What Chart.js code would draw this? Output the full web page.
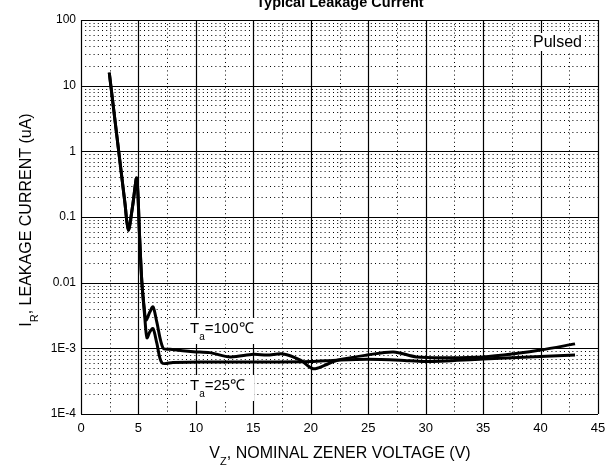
<!DOCTYPE html>
<html>
<head>
<meta charset="utf-8">
<script src="https://cdn.jsdelivr.net/npm/chart.js@4"></script>
<style>
  html, body { margin: 0; padding: 0; background: #fff; }
  #wrap { width: 613px; height: 468px; position: relative; }
</style>
</head>
<body>
<div id="wrap"><canvas id="leakage-chart" width="613" height="468"></canvas></div>
<script>
// Ta = 100C curve
const vzHot = [2.46, 3.83, 4.12, 4.5, 4.85, 5.1, 5.3, 5.5, 5.66, 6.0, 6.27, 6.6, 7.14, 7.75, 9.77, 11.2, 13, 15, 16.2, 17.6, 19.1, 20.2, 21.2, 22.3, 24.9, 27.2, 29.2, 32, 35, 38, 40, 43];
const irHot = [15.8, 0.16, 0.063, 0.15, 0.39, 0.05, 0.01, 0.0042, 0.0027, 0.0036, 0.0043, 0.0025, 0.00101, 0.00097, 0.00089, 0.00086, 0.00074, 0.00081, 0.00079, 0.00082, 0.00066, 0.00049, 0.00055, 0.00066, 0.00079, 0.00088, 0.00074, 0.00072, 0.00074, 0.00084, 0.00094, 0.00117];
// Ta = 25C curve
const vzRoom = [2.46, 3.83, 4.12, 4.5, 4.85, 5.1, 5.3, 5.55, 5.74, 6.0, 6.27, 6.6, 7.05, 8, 10.4, 13, 16, 20, 22.3, 24.9, 27.8, 30, 35, 40, 43];
const irRoom = [15.8, 0.16, 0.063, 0.15, 0.39, 0.05, 0.01, 0.003, 0.00145, 0.0018, 0.002, 0.0012, 0.0006, 0.00061, 0.00062, 0.00062, 0.00062, 0.00063, 0.00066, 0.00068, 0.00066, 0.00063, 0.00069, 0.00075, 0.00079];

const xTickValues = [0, 5, 10, 15, 20, 25, 30, 35, 40, 45];
const yTickValues = [1e-4, 1e-3, 1e-2, 1e-1, 1, 10, 100];
const yTickLabels = ['1E-4', '1E-3', '0.01', '0.1', '1', '10', '100'];

const FONT = 'Arial, "Liberation Sans", sans-serif';

// draws text where some parts are subscript
function drawParts(ctx, parts, x, y, size, align) {
  const subSize = Math.round(size * 0.68);
  let total = 0;
  parts.forEach(p => {
    ctx.font = (p.sub ? subSize : size) + 'px ' + FONT;
    total += ctx.measureText(p.t).width;
  });
  let cx = align === 'center' ? x - total / 2 : x;
  ctx.textAlign = 'left';
  ctx.textBaseline = 'alphabetic';
  parts.forEach(p => {
    ctx.font = (p.sub ? subSize : size) + 'px ' + FONT;
    ctx.fillText(p.t, cx, p.sub ? y + size * 0.45 : y);
    cx += ctx.measureText(p.t).width;
  });
  return total;
}

const gridPlugin = {
  id: 'datasheetGrid',
  beforeDatasetsDraw(chart) {
    const { ctx, chartArea: a, scales } = chart;
    const xs = scales.x, ys = scales.y;
    ctx.save();
    ctx.strokeStyle = '#000';
    // dotted minor lines
    ctx.lineWidth = 1;
    ctx.setLineDash([1, 3.2]);
    for (let v = 2.5; v < 45; v += 5) {
      const px = Math.round(xs.getPixelForValue(v)) + 0.5;
      ctx.beginPath(); ctx.moveTo(px, a.top); ctx.lineTo(px, a.bottom); ctx.stroke();
    }
    for (let d = -4; d < 2; d++) {
      for (let k = 2; k <= 9; k++) {
        const py = Math.round(ys.getPixelForValue(k * Math.pow(10, d))) + 0.5;
        ctx.beginPath(); ctx.moveTo(a.left, py); ctx.lineTo(a.right, py); ctx.stroke();
      }
    }
    // solid major lines
    ctx.setLineDash([]);
    ctx.lineWidth = 1.2;
    xTickValues.forEach(v => {
      const px = Math.round(xs.getPixelForValue(v)) + 0.5;
      ctx.beginPath(); ctx.moveTo(px, a.top); ctx.lineTo(px, a.bottom); ctx.stroke();
    });
    yTickValues.forEach(v => {
      const py = Math.round(ys.getPixelForValue(v)) + 0.5;
      ctx.beginPath(); ctx.moveTo(a.left, py); ctx.lineTo(a.right, py); ctx.stroke();
    });

    // label boxes
    ctx.fillStyle = '#fff';
    ctx.fillRect(531, 33, 54, 18);
    ctx.fillRect(188, 318, 74, 26);
    ctx.fillRect(188, 375, 66, 26);
    ctx.fillStyle = '#000';
    ctx.font = '16px ' + FONT;
    ctx.textAlign = 'left';
    ctx.textBaseline = 'alphabetic';
    ctx.fillText('Pulsed', 533, 47);
    drawParts(ctx, [{ t: 'T' }, { t: 'a', sub: true }, { t: '=100\u2103' }], 190, 333, 15, 'left');
    drawParts(ctx, [{ t: 'T' }, { t: 'a', sub: true }, { t: '=25\u2103' }], 190, 390, 15, 'left');
    ctx.restore();
  },
  afterDraw(chart) {
    const { ctx } = chart;
    ctx.save();
    ctx.fillStyle = '#000';
    // title (top is cut off as in the source)
    ctx.font = 'bold 14.5px ' + FONT;
    ctx.textAlign = 'center';
    ctx.textBaseline = 'alphabetic';
    ctx.fillText('Typical Leakage Current', 340, 7);
    // x title
    drawParts(ctx, [{ t: 'V' }, { t: 'Z', sub: true }, { t: ', NOMINAL ZENER VOLTAGE (V)' }], 340, 458, 16, 'center');
    // y title
    ctx.translate(31, 220);
    ctx.rotate(-Math.PI / 2);
    drawParts(ctx, [{ t: 'I' }, { t: 'R', sub: true }, { t: ', LEAKAGE CURRENT (uA)' }], 0, 0, 16, 'center');
    ctx.restore();
  }
};

const $canvas = document.getElementById('leakage-chart');

const leakageChart = new Chart($canvas, {
  type: 'line',
  data: {
    datasets: [
      {
        label: 'Ta=100\u2103',
        data: vzHot.map((v, i) => ({ x: v, y: irHot[i] })),
        borderColor: '#000',
        borderWidth: 3,
        pointRadius: 0,
        tension: 0.3,
      },
      {
        label: 'Ta=25\u2103',
        data: vzRoom.map((v, i) => ({ x: v, y: irRoom[i] })),
        borderColor: '#000',
        borderWidth: 3,
        pointRadius: 0,
        tension: 0.3,
      },
    ],
  },
  options: {
    responsive: false,
    animation: false,
    devicePixelRatio: 1,
    layout: { padding: { top: 20, right: 15, left: 0, bottom: 0 } },
    plugins: {
      legend: { display: false },
      tooltip: { enabled: false },
    },
    scales: {
      x: {
        type: 'linear',
        min: 0,
        max: 45,
        grid: { display: false, drawTicks: false },
        border: { display: false },
        afterBuildTicks: (scale) => { scale.ticks = xTickValues.map(v => ({ value: v })); },
        afterFit: (scale) => { scale.height = 54; },
        ticks: {
          color: '#000',
          padding: 7,
          maxRotation: 0,
          font: { family: FONT, size: 13 },
        },
      },
      y: {
        type: 'logarithmic',
        min: 1e-4,
        max: 100,
        grid: { display: false, drawTicks: false },
        border: { display: false },
        afterBuildTicks: (scale) => { scale.ticks = yTickValues.map(v => ({ value: v })); },
        afterFit: (scale) => { scale.width = 81; },
        ticks: {
          color: '#000',
          padding: 5,
          font: { family: FONT, size: 12 },
          callback: (value) => {
            const i = yTickValues.findIndex(t => Math.abs(Math.log10(t) - Math.log10(value)) < 1e-6);
            return i >= 0 ? yTickLabels[i] : '';
          },
        },
      },
    },
  },
  plugins: [gridPlugin],
});
</script>
</body>
</html>
